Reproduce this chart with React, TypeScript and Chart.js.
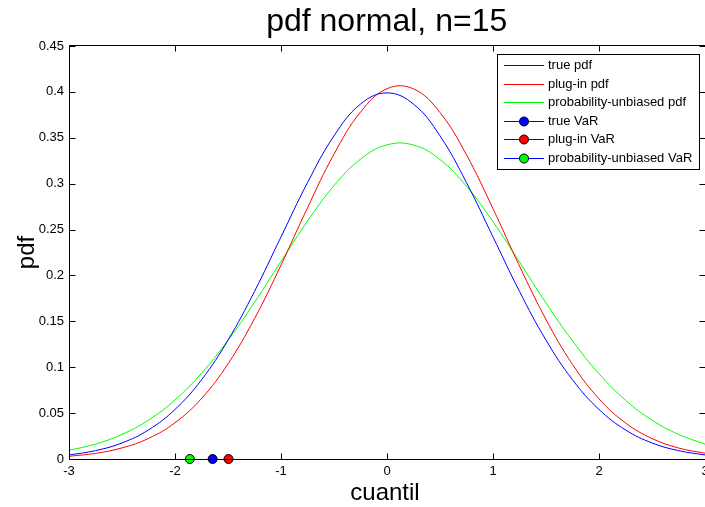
import React, { useEffect, useRef } from "react";
import { Chart, registerables } from "chart.js";

Chart.register(...registerables);

const xValues = [-3, -2.75, -2.5, -2.25, -2, -1.75, -1.5, -1.25, -1, -0.75, -0.5, -0.25, 0, 0.25, 0.5, 0.75, 1, 1.25, 1.5, 1.75, 2, 2.25, 2.5, 2.75, 3];
const truePdf = [0.0044, 0.0091, 0.0175, 0.0317, 0.054, 0.0863, 0.1295, 0.1826, 0.242, 0.3011, 0.3521, 0.3867, 0.3989, 0.3867, 0.3521, 0.3011, 0.242, 0.1826, 0.1295, 0.0863, 0.054, 0.0317, 0.0175, 0.0091, 0.0044];
const plugInPdf = [0.003, 0.0061, 0.0121, 0.0224, 0.0395, 0.0659, 0.1037, 0.1529, 0.2113, 0.2737, 0.3322, 0.378, 0.4035, 0.4033, 0.3775, 0.3314, 0.2727, 0.2103, 0.152, 0.103, 0.0656, 0.0393, 0.0223, 0.012, 0.0063];
const unbiasedPdf = [0.0095, 0.0162, 0.0268, 0.0424, 0.0644, 0.0934, 0.1293, 0.1707, 0.2153, 0.2592, 0.2978, 0.3267, 0.3423, 0.3421, 0.3263, 0.2972, 0.2585, 0.2146, 0.17, 0.1287, 0.0929, 0.0641, 0.0423, 0.0268, 0.0162];

const trueVaR = -1.645;
const plugInVaR = -1.495;
const unbiasedVaR = -1.86;

const xTicks = [-3, -2, -1, 0, 1, 2, 3];
const yTicks = [0, 0.05, 0.1, 0.15, 0.2, 0.25, 0.3, 0.35, 0.4, 0.45];

const titleText = "pdf normal, n=15";
const xLabel = "cuantil";
const yLabel = "pdf";
const legendLabels = ["true pdf", "plug-in pdf", "probability-unbiased pdf", "true VaR", "plug-in VaR", "probability-unbiased VaR"];

const BLUE = "#0000ff";
const RED = "#ff0000";
const GREEN = "#00ff00";
const FONT = "'Liberation Sans', Arial, Helvetica, sans-serif";

const toPts = (ys: number[]) => xValues.map((x, i) => ({ x, y: ys[i] }));

const framePlugin = {
  id: "frame",
  afterDatasetsDraw(chart: any) {
    const { ctx, chartArea: a, scales } = chart;
    const xs = scales.x;
    const ys = scales.y;
    ctx.save();
    ctx.strokeStyle = "#000";
    ctx.lineWidth = 1;
    const L = Math.round(a.left) + 0.5;
    const R = Math.round(a.right) + 0.5;
    const T = Math.round(a.top) - 0.5;
    const B = Math.round(a.bottom) + 0.5;
    ctx.beginPath();
    ctx.moveTo(L, T);
    ctx.lineTo(R, T);
    ctx.lineTo(R, B);
    ctx.lineTo(L, B);
    ctx.closePath();
    ctx.stroke();
    const tl = 6;
    ctx.beginPath();
    xTicks.forEach((v) => {
      const px = Math.round(xs.getPixelForValue(v)) + 0.5;
      ctx.moveTo(px, B);
      ctx.lineTo(px, B - tl);
      ctx.moveTo(px, T);
      ctx.lineTo(px, T + tl);
    });
    yTicks.forEach((v) => {
      const py = Math.round(ys.getPixelForValue(v)) + 0.5;
      ctx.moveTo(L, py);
      ctx.lineTo(L + tl, py);
      ctx.moveTo(R, py);
      ctx.lineTo(R - tl, py);
    });
    ctx.stroke();
    ctx.restore();
  },
  afterDraw(chart: any) {
    const { ctx, chartArea: a } = chart;
    ctx.save();
    ctx.fillStyle = "#000";
    ctx.font = `32px ${FONT}`;
    ctx.textAlign = "center";
    ctx.textBaseline = "alphabetic";
    ctx.fillText(titleText, 386.7, 31);
    ctx.font = `24px ${FONT}`;
    ctx.fillText(xLabel, 385, 500);
    ctx.save();
    ctx.translate(34, (a.top + a.bottom) / 2);
    ctx.rotate(-Math.PI / 2);
    ctx.textAlign = "center";
    ctx.fillText(yLabel, 0, 0);
    ctx.restore();

    const bx = 497.5, by = 54.5, bw = 202, bh = 115;
    ctx.fillStyle = "#fff";
    ctx.fillRect(bx, by, bw, bh);
    ctx.strokeStyle = "#000";
    ctx.lineWidth = 1;
    ctx.strokeRect(bx, by, bw, bh);
    const lineColors = [BLUE, RED, GREEN, BLUE, BLUE, BLUE];
    const markerColors = [null, null, null, BLUE, RED, GREEN];
    ctx.font = `13px ${FONT}`;
    ctx.textAlign = "left";
    ctx.textBaseline = "middle";
    legendLabels.forEach((lab, i) => {
      const cy = Math.round(65 + i * 18.6) + 0.5;
      ctx.strokeStyle = lineColors[i];
      ctx.beginPath();
      ctx.moveTo(504, cy);
      ctx.lineTo(544, cy);
      ctx.stroke();
      const mc = markerColors[i];
      if (mc) {
        ctx.beginPath();
        ctx.arc(524, cy, 4.5, 0, Math.PI * 2);
        ctx.fillStyle = mc;
        ctx.fill();
        ctx.strokeStyle = "#000";
        ctx.stroke();
      }
      ctx.fillStyle = "#000";
      ctx.fillText(lab, 548, cy);
    });
    ctx.restore();
  },
};

export default function App() {
  const ref = useRef<HTMLCanvasElement | null>(null);

  useEffect(() => {
    if (!ref.current) return;
    Chart.defaults.font.family = FONT;
    const lineDs = (label: string, ys: number[], color: string) => ({
      type: "line" as const,
      label,
      data: toPts(ys),
      borderColor: color,
      backgroundColor: color,
      borderWidth: 1,
      pointRadius: 0,
      tension: 0.4,
      fill: false,
    });
    const varDs = (label: string, x: number, color: string) => ({
      type: "line" as const,
      label,
      data: [{ x, y: 0 }],
      borderColor: BLUE,
      backgroundColor: color,
      pointBackgroundColor: color,
      pointBorderColor: "#000",
      pointBorderWidth: 1,
      pointRadius: 4.5,
      borderWidth: 1,
      clip: false as any,
    });
    const chart = new Chart(ref.current, {
      type: "line",
      data: {
        datasets: [
          lineDs(legendLabels[0], truePdf, BLUE),
          lineDs(legendLabels[1], plugInPdf, RED),
          lineDs(legendLabels[2], unbiasedPdf, GREEN),
          varDs(legendLabels[3], trueVaR, BLUE),
          varDs(legendLabels[4], plugInVaR, RED),
          varDs(legendLabels[5], unbiasedVaR, GREEN),
        ] as any,
      },
      options: {
        animation: false,
        responsive: false,
        devicePixelRatio: 1,
        layout: { padding: { left: 0, top: 46, right: 15, bottom: 0 } },
        plugins: {
          legend: { display: false },
          title: { display: false },
          tooltip: { enabled: false },
        },
        scales: {
          x: {
            type: "linear",
            min: -3,
            max: 3,
            afterBuildTicks: (s: any) => {
              s.ticks = xTicks.map((v) => ({ value: v }));
            },
            afterFit: (s: any) => {
              s.height = 48;
            },
            grid: { display: false, drawTicks: false },
            border: { display: false },
            ticks: {
              padding: 5,
              color: "#000",
              font: { size: 13, family: FONT },
              maxRotation: 0,
              autoSkip: false,
              callback: (v: any) => String(Number(v)),
            },
          },
          y: {
            type: "linear",
            min: 0,
            max: 0.45,
            afterBuildTicks: (s: any) => {
              s.ticks = yTicks.map((v) => ({ value: v }));
            },
            afterFit: (s: any) => {
              s.width = 69;
            },
            grid: { display: false, drawTicks: false },
            border: { display: false },
            ticks: {
              padding: 5,
              color: "#000",
              font: { size: 13, family: FONT },
              autoSkip: false,
              callback: (v: any) => String(Number(Number(v).toFixed(2))),
            },
          },
        },
      },
      plugins: [framePlugin],
    });
    return () => chart.destroy();
  }, []);

  return (
    <div
      style={{
        position: "fixed",
        left: 0,
        top: 0,
        width: 705,
        height: 507,
        overflow: "hidden",
        background: "#fff",
      }}
    >
      <canvas ref={ref} width={720} height={507} style={{ display: "block", width: 720, height: 507 }} />
    </div>
  );
}
